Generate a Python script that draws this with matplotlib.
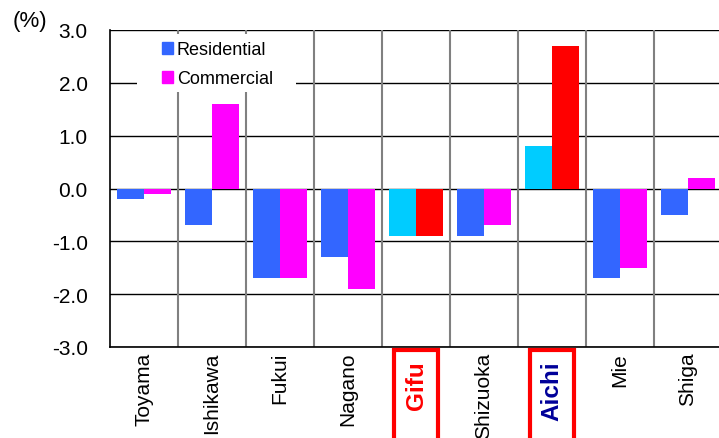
import matplotlib
matplotlib.use("Agg")
import matplotlib.pyplot as plt
from matplotlib.patches import Rectangle, Patch
from matplotlib.transforms import blended_transform_factory
import numpy as np

categories = ["Toyama", "Ishikawa", "Fukui", "Nagano", "Gifu", "Shizuoka", "Aichi", "Mie", "Shiga"]
residential = [-0.2, -0.7, -1.7, -1.3, -0.9, -0.9, 0.8, -1.7, -0.5]
commercial = [-0.1, 1.6, -1.7, -1.9, -0.9, -0.7, 2.7, -1.5, 0.2]
yticks = [3.0, 2.0, 1.0, 0.0, -1.0, -2.0, -3.0]
highlight = {"Gifu": "#FF0000", "Aichi": "#000099"}

plt.rcParams['font.family'] = ['Liberation Sans', 'DejaVu Sans']

W, H = 719, 439
fig = plt.figure(figsize=(W / 100, H / 100), dpi=100)
left, right, top, bottom = 110, 722, 31, 348
ax = fig.add_axes([left / W, 1 - bottom / H, (right - left) / W, (bottom - top) / H])

x = np.arange(len(categories))
bw = 0.4
res_colors = ["#00CCFF" if c in highlight else "#3366FF" for c in categories]
com_colors = ["#FF0000" if c in highlight else "#FF00FF" for c in categories]
ax.bar(x - bw / 2, residential, bw, color=res_colors, zorder=3, linewidth=0)
ax.bar(x + bw / 2, commercial, bw, color=com_colors, zorder=3, linewidth=0)

ax.set_xlim(-0.5, len(categories) - 0.5)
ax.set_ylim(-3.0, 3.0)
ax.set_yticks(yticks)
ax.set_yticklabels([f"{v:.1f}" for v in yticks], fontsize=15)
for v in yticks:
    ax.axhline(v, color="black", lw=1.0, zorder=1)
for b in np.arange(0.5, len(categories) - 0.5, 1.0):
    ax.axvline(b, color="#808080", lw=1.5, zorder=1)

ax.set_xticks(x)
ax.set_xticklabels(["" if c in highlight else c for c in categories],
                   rotation=90, fontsize=15, va="top")
ax.tick_params(axis="both", length=0)
ax.tick_params(axis="x", pad=3.5)
ax.tick_params(axis="y", pad=16)

trans = blended_transform_factory(ax.transData, fig.transFigure)
fig.canvas.draw()
for i, c in enumerate(categories):
    if c in highlight:
        ax.text(x[i], 1 - 361 / H, c, transform=trans, rotation=90, ha="center", va="top",
                fontsize=17.5, fontweight="bold", color=highlight[c], clip_on=False)
        cx_disp = ax.transData.transform((x[i], 0))[0]
        bw_px = 44
        rect = Rectangle(((cx_disp - bw_px / 2) / W, -0.05), bw_px / W, (H - 351) / H + 0.05,
                         transform=fig.transFigure, fill=False, edgecolor="#FF0000",
                         linewidth=3.0, clip_on=False, zorder=10)
        fig.patches.append(rect)

for s in ["top", "right"]:
    ax.spines[s].set_visible(False)
ax.spines["left"].set_color("black")
ax.spines["bottom"].set_color("black")
ax.spines["left"].set_linewidth(1.2)
ax.spines["bottom"].set_linewidth(1.2)

# white legend background covering the gridlines
bg = Rectangle((137 / W, 1 - 93 / H), (296 - 137) / W, (93 - 35) / H, transform=fig.transFigure,
               facecolor="white", edgecolor="none", zorder=2)
ax.add_artist(bg)
bg.set_transform(fig.transFigure)

handles = [Patch(color="#3366FF", label="Residential"), Patch(color="#FF00FF", label="Commercial")]
leg = ax.legend(handles=handles, loc="upper left", bbox_to_anchor=(157 / W, 1 - 37 / H),
                bbox_transform=fig.transFigure,
                frameon=False, fontsize=13, handlelength=0.6, handleheight=0.6, handletextpad=0.2,
                labelspacing=0.65, borderpad=0.3, borderaxespad=0.0)
leg.set_zorder(5)

fig.text(13 / W, 1 - 21 / H, "(%)", fontsize=16, va="center", ha="left")

fig.savefig("out.png", dpi=100)
